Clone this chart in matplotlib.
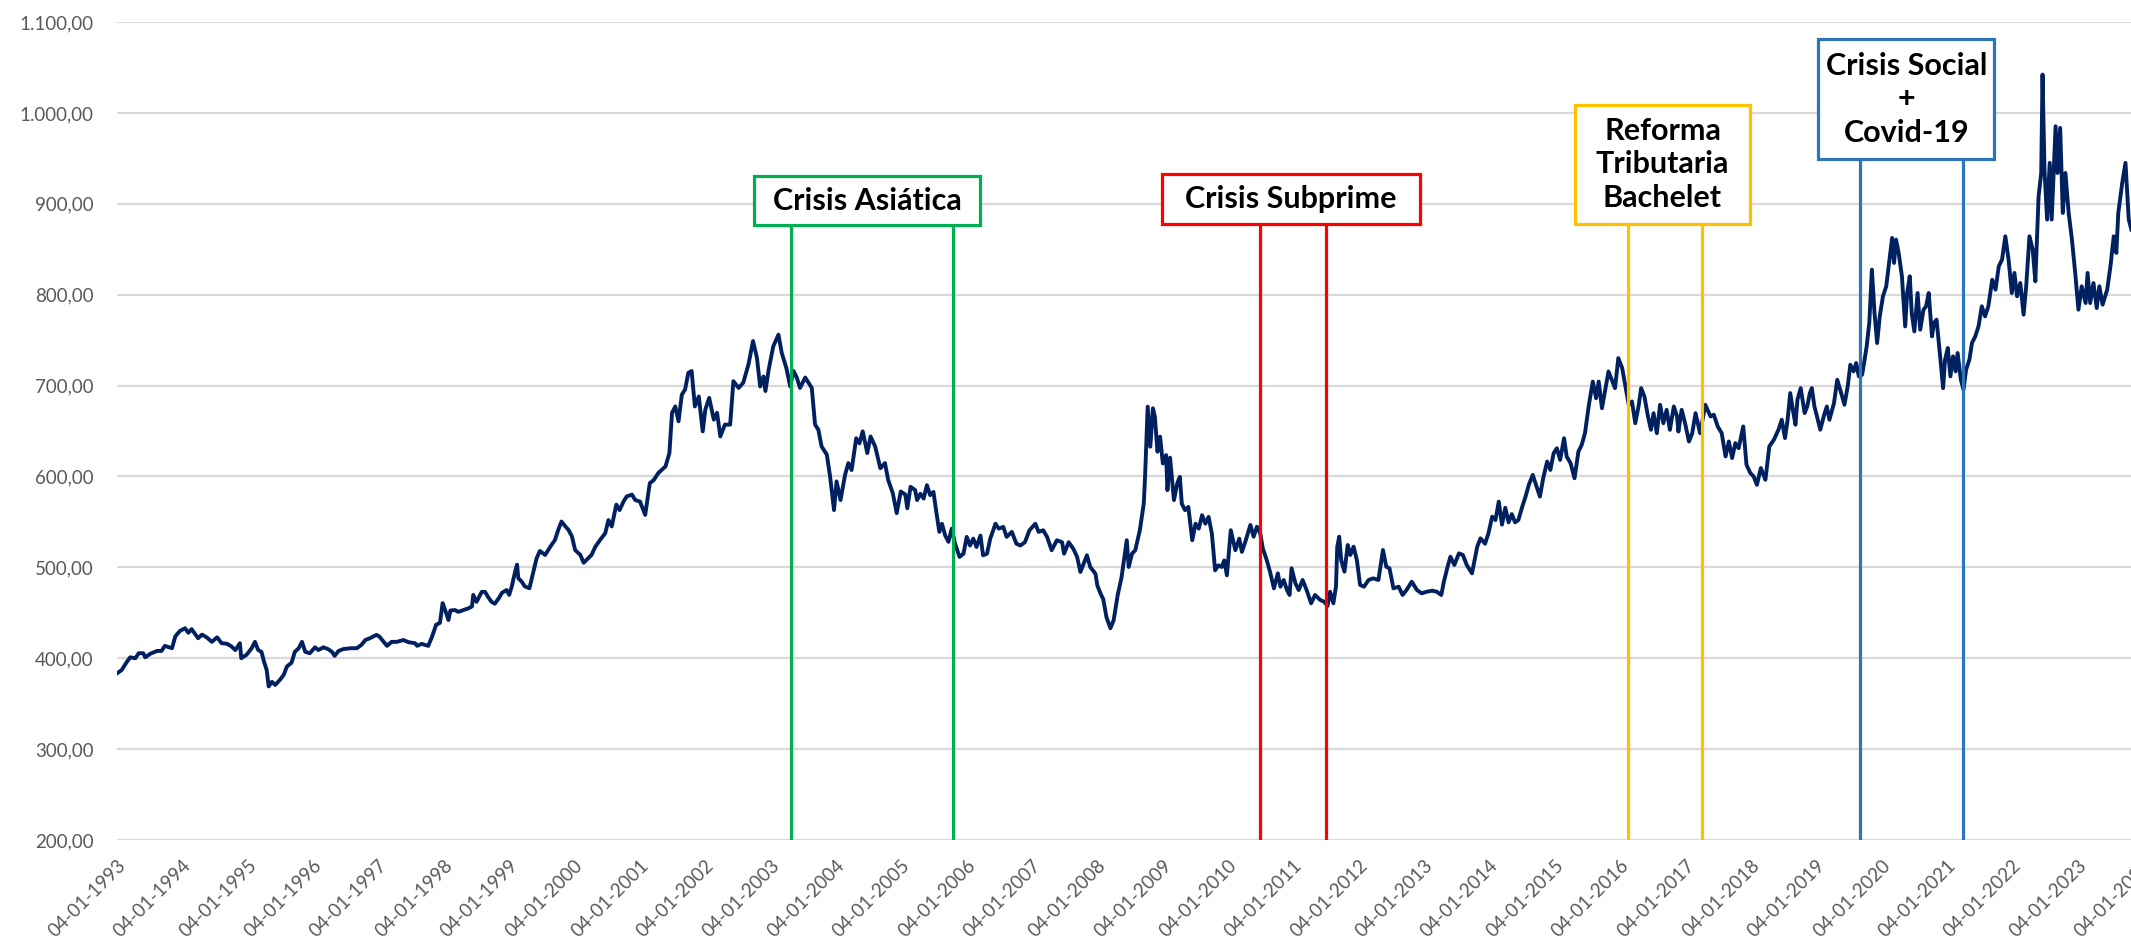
import matplotlib
matplotlib.use("Agg")
import matplotlib.pyplot as plt
import matplotlib.dates as mdates
from matplotlib.patches import Rectangle
from matplotlib.ticker import FuncFormatter
from datetime import datetime, timedelta

plt.rcParams['font.family'] = ['Lato', 'DejaVu Sans']

# tipo de cambio (anio decimal, valor)
anios = [
    1993.01, 1993.08, 1993.15, 1993.21, 1993.29, 1993.34, 1993.41, 1993.44, 1993.52, 1993.62,
    1993.69, 1993.74, 1993.85, 1993.90, 1993.97, 1994.05, 1994.10, 1994.15, 1994.25, 1994.31,
    1994.38, 1994.46, 1994.54, 1994.61, 1994.69, 1994.76, 1994.82, 1994.89, 1994.91, 1994.99,
    1995.07, 1995.12, 1995.17, 1995.22, 1995.26, 1995.30, 1995.33, 1995.38, 1995.43, 1995.50,
    1995.56, 1995.61, 1995.68, 1995.73, 1995.79, 1995.84, 1995.89, 1995.96, 1996.04, 1996.09,
    1996.17, 1996.24, 1996.30, 1996.34, 1996.40, 1996.47, 1996.58, 1996.68, 1996.75, 1996.81,
    1996.88, 1996.98, 1997.02, 1997.09, 1997.14, 1997.21, 1997.29, 1997.39, 1997.47, 1997.57,
    1997.60, 1997.67, 1997.77, 1997.83, 1997.89, 1997.95, 1997.99, 1998.03, 1998.08, 1998.11,
    1998.18, 1998.23, 1998.31, 1998.39, 1998.44, 1998.46, 1998.51, 1998.59, 1998.64, 1998.69,
    1998.74, 1998.79, 1998.85, 1998.90, 1998.97, 1999.01, 1999.05, 1999.10, 1999.13, 1999.15,
    1999.20, 1999.25, 1999.32,
    1999.43, 1999.48, 1999.56, 1999.64, 1999.71, 1999.76, 1999.81, 1999.87, 1999.92, 1999.97,
    2000.02, 2000.10, 2000.15, 2000.22, 2000.27, 2000.33, 2000.40, 2000.48, 2000.53, 2000.58,
    2000.65, 2000.70, 2000.76, 2000.81, 2000.89, 2000.94, 2001.01, 2001.09, 2001.16, 2001.22,
    2001.29, 2001.40, 2001.46, 2001.50, 2001.55, 2001.60, 2001.65, 2001.70, 2001.75, 2001.80,
    2001.85, 2001.91, 2001.97, 2002.01, 2002.07, 2002.14, 2002.19, 2002.24, 2002.31, 2002.39,
    2002.44, 2002.52, 2002.59, 2002.67, 2002.74, 2002.80, 2002.85, 2002.90, 2002.93, 2002.98,
    2003.05, 2003.13, 2003.18, 2003.25, 2003.31, 2003.36, 2003.41, 2003.46, 2003.54, 2003.59,
    2003.64, 2003.69, 2003.74, 2003.79, 2003.87, 2003.92, 2003.98, 2004.02, 2004.08, 2004.15,
    2004.20, 2004.25, 2004.32, 2004.37, 2004.42, 2004.49, 2004.54, 2004.61, 2004.69, 2004.76,
    2004.81, 2004.88, 2004.94, 2005.00, 2005.07, 2005.10,
    2005.15, 2005.22, 2005.25, 2005.30, 2005.35, 2005.40, 2005.45, 2005.50, 2005.54, 2005.59,
    2005.63, 2005.68, 2005.73, 2005.78, 2005.83, 2005.90, 2005.96, 2006.01, 2006.06, 2006.11,
    2006.16, 2006.22, 2006.26, 2006.32, 2006.37, 2006.45, 2006.50, 2006.57, 2006.62, 2006.70,
    2006.77, 2006.83, 2006.90, 2006.97, 2007.06, 2007.11, 2007.18, 2007.24, 2007.31, 2007.39,
    2007.47, 2007.50, 2007.57, 2007.64, 2007.70, 2007.75, 2007.80, 2007.85, 2007.90, 2007.98,
    2008.01, 2008.06, 2008.10, 2008.15, 2008.21, 2008.26, 2008.32, 2008.38, 2008.46, 2008.49,
    2008.54, 2008.59, 2008.66, 2008.72, 2008.74, 2008.78, 2008.82, 2008.86, 2008.89, 2008.93,
    2008.97, 2009.01, 2009.06, 2009.08, 2009.12, 2009.18, 2009.23, 2009.27, 2009.30, 2009.35,
    2009.40, 2009.46, 2009.51, 2009.56, 2009.61, 2009.66, 2009.71, 2009.76, 2009.81, 2009.86,
    2009.91, 2009.95, 2009.99, 2010.05, 2010.12, 2010.18, 2010.22, 2010.27,
    2010.35, 2010.40, 2010.45, 2010.50, 2010.54, 2010.60, 2010.65, 2010.71, 2010.77, 2010.81,
    2010.86, 2010.91, 2010.95, 2010.98, 2011.04, 2011.09, 2011.15, 2011.22, 2011.28, 2011.34,
    2011.42, 2011.48, 2011.53, 2011.57, 2011.62, 2011.66, 2011.68, 2011.71, 2011.74, 2011.79,
    2011.84, 2011.88, 2011.93, 2011.98, 2012.03, 2012.09, 2012.16, 2012.23, 2012.31, 2012.38,
    2012.43, 2012.48, 2012.54, 2012.62, 2012.68, 2012.74, 2012.82, 2012.90, 2012.97, 2013.05,
    2013.13, 2013.20, 2013.27, 2013.31, 2013.36, 2013.41, 2013.47, 2013.54, 2013.60, 2013.66,
    2013.74, 2013.82, 2013.87,
    2013.94, 2013.99, 2014.05, 2014.10, 2014.15, 2014.20, 2014.25, 2014.30, 2014.35, 2014.40,
    2014.45, 2014.51, 2014.56, 2014.61, 2014.67, 2014.72, 2014.78, 2014.83, 2014.89, 2014.94,
    2014.99, 2015.04, 2015.09, 2015.15, 2015.19, 2015.25, 2015.31, 2015.37, 2015.42, 2015.47,
    2015.53, 2015.59, 2015.64, 2015.68, 2015.73, 2015.78, 2015.83, 2015.88, 2015.93, 2015.98,
    2016.04, 2016.09, 2016.14, 2016.19, 2016.24, 2016.29, 2016.33, 2016.38, 2016.43, 2016.48,
    2016.52, 2016.57, 2016.62, 2016.67, 2016.72, 2016.77, 2016.83, 2016.88, 2016.90, 2016.95,
    2017.00, 2017.06, 2017.11, 2017.16, 2017.23, 2017.31,
    2017.39, 2017.44, 2017.50, 2017.56, 2017.62, 2017.67, 2017.72, 2017.77, 2017.82, 2017.89,
    2017.94, 2018.00, 2018.05, 2018.10, 2018.16, 2018.23, 2018.29, 2018.36, 2018.43, 2018.48,
    2018.53, 2018.57, 2018.61, 2018.65, 2018.69, 2018.72, 2018.77, 2018.83, 2018.87, 2018.91,
    2018.94, 2018.98, 2019.02, 2019.07, 2019.13, 2019.17, 2019.21, 2019.28, 2019.33, 2019.39,
    2019.44, 2019.49, 2019.53, 2019.58, 2019.62, 2019.66, 2019.71, 2019.74, 2019.78, 2019.82,
    2019.86, 2019.90, 2019.94, 2019.98, 2020.03, 2020.08, 2020.13, 2020.17, 2020.20, 2020.23,
    2020.27, 2020.32, 2020.37, 2020.40, 2020.44, 2020.47, 2020.51, 2020.56, 2020.60, 2020.65,
    2020.69, 2020.73, 2020.78, 2020.81, 2020.85, 2020.91, 2020.95, 2020.98, 2021.02, 2021.06,
    2021.10, 2021.14, 2021.17, 2021.22, 2021.26, 2021.30, 2021.35, 2021.39, 2021.44, 2021.49,
    2021.54, 2021.59, 2021.64, 2021.70, 2021.75, 2021.80, 2021.85, 2021.90, 2021.95, 2022.00,
    2022.04, 2022.08, 2022.13, 2022.18, 2022.22, 2022.27, 2022.32, 2022.36, 2022.41, 2022.45,
    2022.47, 2022.50, 2022.54, 2022.58, 2022.61, 2022.67, 2022.70, 2022.74, 2022.78, 2022.82,
    2022.87, 2022.92, 2022.97, 2023.02, 2023.07, 2023.13, 2023.16, 2023.20, 2023.25, 2023.30,
    2023.34, 2023.39, 2023.46, 2023.51, 2023.56, 2023.60, 2023.63, 2023.69, 2023.74, 2023.79,
    2023.83,
]
valores = [
    383.5, 387, 395, 401, 400, 405.5, 405.5, 401, 405, 408,
    408, 413.6, 411, 424, 430, 433, 428, 432, 422, 426,
    423, 418, 423, 416.5, 416, 413, 409, 416.5, 400, 403.7,
    411, 418, 409, 407, 396, 387, 369, 374, 370.6, 376,
    381.6, 391, 395, 407, 411, 418, 407, 405.5, 412, 409,
    412, 410, 407, 402.6, 408, 410, 411, 411, 414.7, 420,
    422, 425.7, 424, 418, 413.6, 418, 418, 420, 417.6, 416.5,
    413.6, 415.8, 413.6, 424, 436.7, 439, 460.6, 453, 442, 452.5,
    453, 451, 453, 455, 457, 469.7, 462, 473, 473, 467,
    462, 460, 466, 472, 475, 469.7, 479, 495, 503, 488,
    484.4, 479, 477,
    510, 518, 513.6, 522.8, 530, 541, 550.4, 545, 541, 534,
    519, 513.6, 505, 510, 513.6, 522.8, 530, 537.5, 552, 545,
    569, 563, 572.4, 578, 580, 574, 572.4, 557.7, 592.6, 596,
    603.7, 611, 625.7, 669.9, 677, 660.7, 690, 695.6, 714, 716,
    677, 688, 649.6, 673.5, 686.4, 662.5, 670, 644, 657, 657,
    704.8, 697.4, 703, 723, 749, 730.5, 699, 710, 694, 717.6,
    743, 756, 736, 719.5, 699, 716, 708.8, 697.4, 708.8, 703,
    697.4, 657, 651.5, 633, 624, 600, 563, 594.5, 574, 601.8,
    614.7, 607, 642, 636.4, 649.6, 625.7, 644, 633, 609, 614.7,
    596, 581.6, 559.6, 583.5, 580, 565,
    588.6, 585, 574, 581, 575.7, 590.4, 579.4, 583, 562.9, 539,
    548, 535, 528, 542.6, 526, 511.4, 515, 533.5, 524, 531.6,
    522.4, 535, 513.2, 515, 531.6, 548, 542.6, 544.5, 533.5, 539,
    526, 524, 527.6, 540.8, 548, 539, 540.8, 533.5, 518.8, 529.8,
    527.6, 515, 527.6, 520.6, 511.4, 494.9, 504, 513.2, 500.4, 493,
    480, 470.9, 465, 445, 433, 442, 469, 489, 529.8, 500.4,
    515, 518.8, 540.8, 570, 599.6, 676.8, 632.7, 675, 665.8, 627.2,
    643.8, 614.3, 623.5, 584.9, 620.6, 574, 592.3, 599.6, 570, 562.9,
    566.5, 529.8, 548, 542.6, 557.4, 548, 555.5, 537.1, 496.7, 502.2,
    500.4, 507.7, 491.2, 540.8, 518.8, 531.6, 517, 527.6,
    546.6, 533.7, 544.7, 537.4, 520.9, 508, 495.2, 476.9, 493.4, 478.7,
    486.1, 475, 469.6, 498.9, 482.4, 475, 486.1, 473.2, 460.4, 469.6,
    464, 462.2, 457.5, 473.2, 460.4, 478.7, 522.7, 533.7, 508, 495.2,
    524.6, 513.6, 522.7, 508, 480.6, 478.7, 486.1, 487.9, 486.1, 519.1,
    500.7, 498.9, 476.9, 478.7, 469.6, 475, 484.2, 475, 471.4, 473.2,
    474.3, 473.2, 469.6, 484.2, 498.9, 511.7, 502.6, 515.4, 513.6, 502.6,
    493.4, 522.7, 531.9,
    526, 537, 555.8, 552, 572.3, 547, 565.6, 549.5, 558.6, 549.5,
    552, 566.8, 577.8, 590.7, 601.7, 590.7, 577.8, 598, 616.4, 607.2,
    625.6, 631, 618.2, 642, 621.9, 614.5, 598, 627.4, 634.7, 647.6,
    678.8, 704.4, 686, 704.4, 675.1, 695.3, 715.5, 706.4, 697.2, 730.2,
    719.2, 699, 678.8, 682.5, 658.6, 677, 697.2, 688, 667.8, 651.3,
    669.6, 647.6, 678.8, 658.6, 673.3, 651.3, 677, 666, 649.4, 673.3,
    658.6, 638.4, 647.6, 669.6, 647.6, 678.8,
    666, 667.9, 655, 647.7, 622, 638.5, 620.2, 636.7, 631, 655,
    612.8, 603.7, 600, 590.8, 609.2, 596.3, 633, 640.4, 651.4, 662.4,
    642.2, 662.4, 691.7, 673.4, 656.9, 684.4, 697.2, 669.7, 677, 691.7,
    697.2, 677, 666, 651.4, 667.9, 677, 662.4, 680.7, 706.4, 691.7,
    678.9, 699, 722.9, 715.6, 724.8, 710.1, 711.9, 724.8, 743.1, 768.8,
    827.5, 779.8, 746.8, 776.1, 798.2, 809.2, 838.5, 862.4, 834.9, 860.6,
    845.9, 820.2, 765.1, 801.8, 820.2, 779.8, 759.6, 801.8, 761.5, 783.5,
    787.2, 801.8, 754.1, 768.8, 772.5, 728.4, 697.2, 728.4, 741.3, 710.1,
    732.1, 715.6, 735.8, 706.4, 695.4, 717.4, 728.4, 746.8, 754.1, 765.1,
    787.2, 776.1, 787.2, 816.5, 805.5, 831.2, 838.5, 864.2, 838.5, 801.8,
    823.9, 798.2, 812.8, 778, 809.2, 864.2, 849.5, 814.7, 908.3, 933.9,
    1042.2, 937.6, 882.6, 945, 882.6, 985.3, 933.9, 983.5, 889.9, 933.9,
    889.9, 860.6, 823.9, 783.5, 809.2, 790.8, 823.9, 790.8, 812.8, 785.3,
    809.2, 789, 805.5, 831.2, 864.2, 845.9, 889.9, 922.9, 945, 882.6,
    871.6,
]

eventos = ["Crisis Asiática", "Crisis Subprime",
           "Reforma\nTributaria\nBachelet", "Crisis Social\n+\nCovid-19"]
inicio_evento = [2003.32, 2010.50, 2016.13, 2019.68]
fin_evento = [2005.80, 2011.50, 2017.26, 2021.26]
colores = ["#00B050", "#FF0000", "#FFC000", "#2E75B6"]
# cajas de texto: (x0, x1, y0, y1) en anio decimal / valor
cajas = [(2002.76, 2006.22, 876.5, 930.5), (2009.00, 2012.95, 877.5, 932.5),
         (2015.32, 2017.99, 877.5, 1009.0), (2019.04, 2021.73, 949.0, 1081.0)]


def a_fecha(a):
    y = int(a)
    return datetime(y, 1, 1) + timedelta(days=(a - y) * 365.25)


def fmt_cl(v, pos):
    s = f"{v:,.2f}"
    return s.replace(",", "X").replace(".", ",").replace("X", ".")


fig = plt.figure(figsize=(21.31, 9.41), dpi=100)
ax = fig.add_axes([117 / 2131, 101 / 941, 0.9555, 818 / 941])

fechas = [a_fecha(a) for a in anios]
ax.plot(fechas, valores, color="#002060", lw=2.8, zorder=3)

for nombre, a0, a1, col, (bx0, bx1, by0, by1) in zip(eventos, inicio_evento, fin_evento, colores, cajas):
    for a in (a0, a1):
        ax.plot([a_fecha(a)] * 2, [200, by0], color=col, lw=2.3, zorder=4)
    x0 = mdates.date2num(a_fecha(bx0))
    x1 = mdates.date2num(a_fecha(bx1))
    ax.add_patch(Rectangle((x0, by0), x1 - x0, by1 - by0, facecolor="white",
                           edgecolor=col, lw=2.3, zorder=5))
    ax.text((x0 + x1) / 2, (by0 + by1) / 2, nombre, ha="center", va="center",
            fontsize=22, fontweight="bold", color="black", linespacing=1.25, zorder=6)

ax.set_ylim(200, 1100)
ax.set_yticks(range(200, 1101, 100))
ax.yaxis.set_major_formatter(FuncFormatter(fmt_cl))
ax.set_xlim(datetime(1993, 1, 4), datetime(2024, 3, 1))
ax.set_xticks([datetime(y, 1, 4) for y in range(1993, 2025)])
ax.xaxis.set_major_formatter(mdates.DateFormatter("%d-%m-%Y"))

ax.grid(axis="y", color="#d9d9d9", lw=1.6, zorder=0)
for s in ax.spines.values():
    s.set_visible(False)
ax.tick_params(axis="both", length=0, labelsize=13.5, labelcolor="#595959")
ax.tick_params(axis="y", pad=17)
plt.setp(ax.get_xticklabels(), rotation=45, ha="right", va="top",
         rotation_mode="anchor")
ax.tick_params(axis="x", pad=12)

fig.savefig("out.png", dpi=100)
